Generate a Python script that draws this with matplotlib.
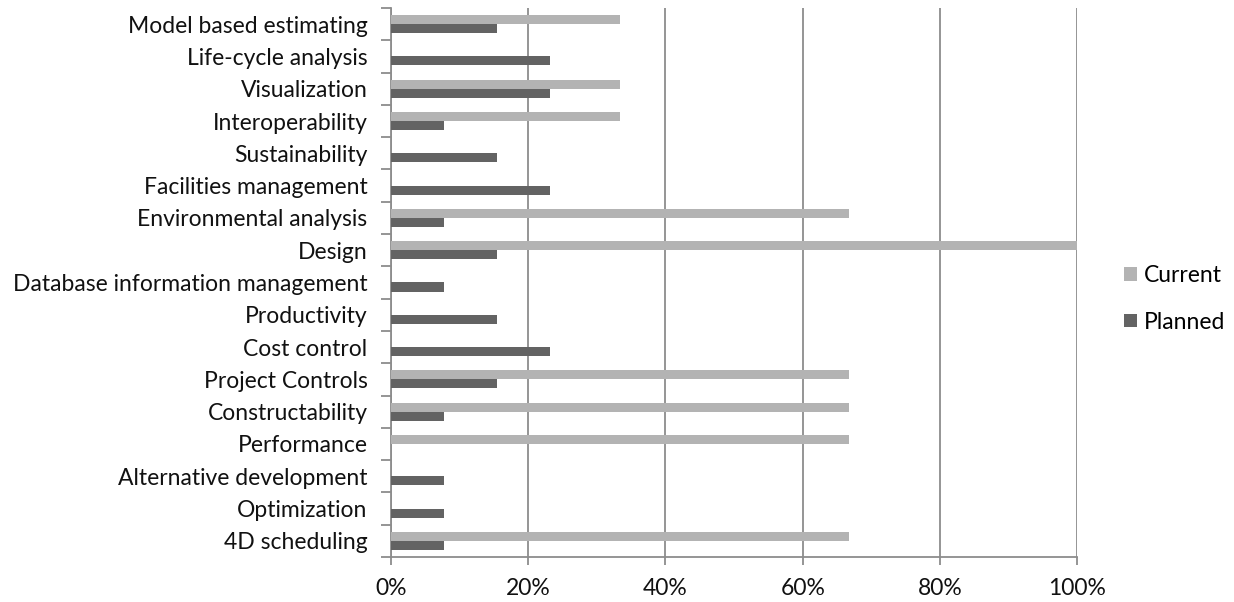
import numpy as np
import matplotlib.pyplot as plt
from matplotlib.ticker import FuncFormatter, FixedLocator

# categories listed bottom to top, as drawn on the y axis
categories = ["4D scheduling", "Optimization", "Alternative development", "Performance",
              "Constructability", "Project Controls", "Cost control", "Productivity",
              "Database information management", "Design", "Environmental analysis",
              "Facilities management", "Sustainability", "Interoperability",
              "Visualization", "Life-cycle analysis", "Model based estimating"]
current = [66.7, 0, 0, 66.7, 66.7, 66.7, 0, 0, 0, 100, 66.7, 0, 0, 33.3, 33.3, 0, 33.3]
planned = [7.7, 7.7, 7.7, 0, 7.7, 15.4, 23.1, 15.4, 7.7, 15.4, 7.7, 23.1, 15.4, 7.7, 23.1, 23.1, 15.4]

plt.rcParams['font.family'] = ['Lato', 'DejaVu Sans']
fs = 16.5

fig = plt.figure(figsize=(12.34, 6.02), dpi=100)
ax = fig.add_axes([0.3169, 0.0748, 0.5560, 0.9119])

y = np.arange(len(categories))
h = 0.28
ax.barh(y + h/2, current, height=h, color='#b3b3b3', label='Current', zorder=3)
ax.barh(y - h/2, planned, height=h, color='#636363', label='Planned', zorder=3)

ax.set_xlim(0, 100)
ax.set_ylim(-0.5, len(categories) - 0.5)
ax.set_xticks([0, 20, 40, 60, 80, 100])
ax.xaxis.set_major_formatter(FuncFormatter(lambda v, p: f"{int(v)}%"))
ax.grid(axis='x', color='#8c8c8c', linewidth=1.3, zorder=0)

ax.set_yticks(y)
ax.set_yticklabels(categories)
ax.yaxis.set_minor_locator(FixedLocator(np.arange(-0.5, len(categories), 1.0)))
ax.tick_params(axis='y', which='major', length=0, labelsize=fs, pad=17, labelcolor='#111111')
ax.tick_params(axis='y', which='minor', length=7, width=1.3, color='#8c8c8c')
ax.tick_params(axis='x', length=6, width=1.3, color='#8c8c8c', labelsize=fs, pad=9, labelcolor='#111111')

for s in ['top', 'right']:
    ax.spines[s].set_visible(False)
for s in ['left', 'bottom']:
    ax.spines[s].set_color('#8c8c8c')
    ax.spines[s].set_linewidth(1.3)

ax.legend(loc='center left', bbox_to_anchor=(1.0685, 0.47), frameon=False, fontsize=fs,
          borderaxespad=0, borderpad=0,
          handlelength=0.55, handleheight=0.55, handletextpad=0.3, labelspacing=1.1)

fig.savefig('out.png', dpi=100)
